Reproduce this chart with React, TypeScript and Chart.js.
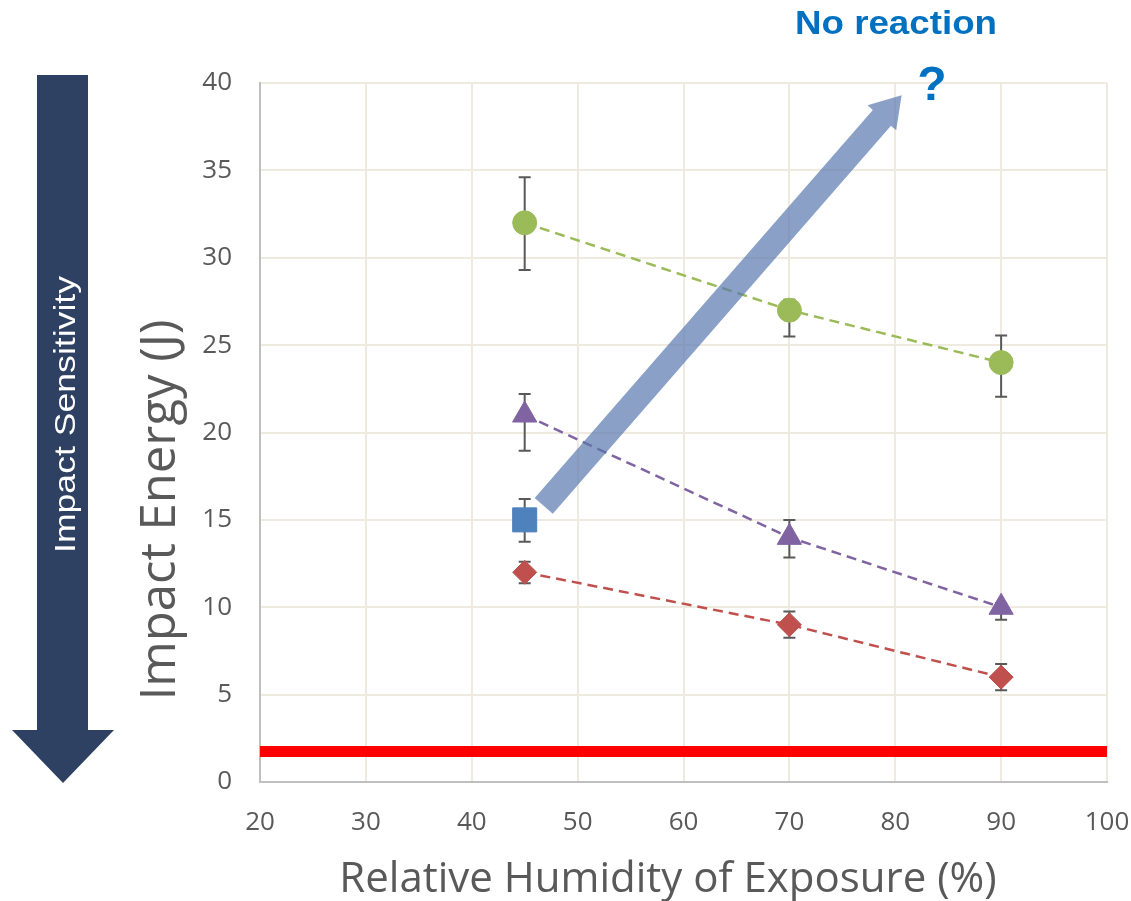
import React, { useEffect, useRef } from 'react';
import { Chart, registerables } from 'chart.js';

Chart.register(...registerables);

// ---------- data ----------
const humidity = [45, 70, 90];

const greenEnergy = [32, 27, 24];
const greenErrUp = [2.6, 0.6, 1.55];
const greenErrDown = [2.7, 1.5, 1.95];

const purpleEnergy = [21, 14, 10];
const purpleErrUp = [1.2, 1.0, 0.25];
const purpleErrDown = [2.05, 1.15, 0.72];

const blueHumidity = [45];
const blueEnergy = [15];
const blueErrUp = [1.2];
const blueErrDown = [1.25];

const redEnergy = [12, 9, 6];
const redErrUp = [0.6, 0.75, 0.75];
const redErrDown = [0.62, 0.75, 0.75];

const thresholdX = [20, 100];
const thresholdEnergy = [1.75, 1.75];

// trend arrow (data coordinates): tail -> tip
const trendArrowX = [46.8, 80.6];
const trendArrowY = [15.8, 39.3];

const xTicksMin = 20;
const xTicksMax = 100;
const yTicksMin = 0;
const yTicksMax = 40;

const yTitle = 'Impact Energy (J)';
const xTitle = 'Relative Humidity of Exposure (%)';

const FONT = '"Open Sans", "Noto Sans", sans-serif';
const GREY = '#595959';

const toPoints = (xs: number[], ys: number[]) => xs.map((x, i) => ({ x, y: ys[i] }));

const errorSeries = [
  { xs: humidity, ys: greenEnergy, up: greenErrUp, down: greenErrDown },
  { xs: humidity, ys: purpleEnergy, up: purpleErrUp, down: purpleErrDown },
  { xs: blueHumidity, ys: blueEnergy, up: blueErrUp, down: blueErrDown },
  { xs: humidity, ys: redEnergy, up: redErrUp, down: redErrDown },
];

const errorBarPlugin = {
  id: 'errorBars',
  beforeDatasetsDraw(chart: any) {
    const { ctx, scales } = chart;
    const xs = scales.x;
    const ys = scales.y;
    ctx.save();
    ctx.strokeStyle = GREY;
    ctx.lineWidth = 2;
    errorSeries.forEach((s) => {
      s.xs.forEach((xv, i) => {
        const px = xs.getPixelForValue(xv);
        const top = ys.getPixelForValue(s.ys[i] + s.up[i]);
        const bot = ys.getPixelForValue(s.ys[i] - s.down[i]);
        ctx.beginPath();
        ctx.moveTo(px, top);
        ctx.lineTo(px, bot);
        ctx.moveTo(px - 6, top);
        ctx.lineTo(px + 6, top);
        ctx.moveTo(px - 6, bot);
        ctx.lineTo(px + 6, bot);
        ctx.stroke();
      });
    });
    ctx.restore();
  },
};

const trendArrowPlugin = {
  id: 'trendArrow',
  afterDatasetsDraw(chart: any) {
    const { ctx, scales } = chart;
    const x0 = scales.x.getPixelForValue(trendArrowX[0]);
    const y0 = scales.y.getPixelForValue(trendArrowY[0]);
    const x1 = scales.x.getPixelForValue(trendArrowX[1]);
    const y1 = scales.y.getPixelForValue(trendArrowY[1]);
    const dx = x1 - x0;
    const dy = y1 - y0;
    const len = Math.hypot(dx, dy);
    const ux = dx / len;
    const uy = dy / len;
    const nx = -uy;
    const ny = ux;
    const shaft = 24;
    const head = 38;
    const headLen = 30;
    const neckX = x1 - ux * headLen;
    const neckY = y1 - uy * headLen;
    ctx.save();
    ctx.fillStyle = 'rgba(88,119,174,0.7)';
    ctx.beginPath();
    ctx.moveTo(x0 + nx * shaft / 2, y0 + ny * shaft / 2);
    ctx.lineTo(neckX + nx * shaft / 2, neckY + ny * shaft / 2);
    ctx.lineTo(neckX + nx * head / 2, neckY + ny * head / 2);
    ctx.lineTo(x1, y1);
    ctx.lineTo(neckX - nx * head / 2, neckY - ny * head / 2);
    ctx.lineTo(neckX - nx * shaft / 2, neckY - ny * shaft / 2);
    ctx.lineTo(x0 - nx * shaft / 2, y0 - ny * shaft / 2);
    ctx.closePath();
    ctx.fill();
    ctx.restore();
  },
};

const drawStretchedText = (
  ctx: CanvasRenderingContext2D,
  text: string,
  font: string,
  x: number,
  y: number,
  rotation: number,
  targetWidth: number,
  color: string
) => {
  ctx.save();
  ctx.font = font;
  const w = ctx.measureText(text).width;
  ctx.translate(x, y);
  ctx.rotate(rotation);
  ctx.scale(targetWidth / w, 1);
  ctx.fillStyle = color;
  ctx.textAlign = 'left';
  ctx.textBaseline = 'alphabetic';
  ctx.fillText(text, 0, 0);
  ctx.restore();
};

const decorPlugin = {
  id: 'decor',
  afterDraw(chart: any) {
    const { ctx } = chart;
    // axis titles, placed like the original
    ctx.save();
    ctx.font = `49px ${FONT}`;
    ctx.fillStyle = GREY;
    ctx.translate(175, 510);
    ctx.rotate(-Math.PI / 2);
    ctx.textAlign = 'center';
    ctx.textBaseline = 'alphabetic';
    ctx.fillText(yTitle, 0, 0);
    ctx.restore();
    ctx.save();
    ctx.font = `42px ${FONT}`;
    ctx.fillStyle = GREY;
    ctx.textAlign = 'center';
    ctx.textBaseline = 'middle';
    ctx.fillText(xTitle, 668, 880);
    ctx.restore();
    // sensitivity arrow on the left
    ctx.save();
    ctx.fillStyle = '#2E4163';
    ctx.beginPath();
    ctx.moveTo(37, 75);
    ctx.lineTo(88, 75);
    ctx.lineTo(88, 730);
    ctx.lineTo(114, 730);
    ctx.lineTo(63, 783);
    ctx.lineTo(12, 730);
    ctx.lineTo(37, 730);
    ctx.closePath();
    ctx.fill();
    ctx.restore();
    drawStretchedText(ctx, 'Impact Sensitivity', '29px "Liberation Sans", Arial, sans-serif', 75, 553, -Math.PI / 2, 277, '#FFFFFF');
    // annotations
    drawStretchedText(ctx, 'No reaction', 'bold 34px "Liberation Sans", Arial, sans-serif', 795, 34, 0, 202, '#0070C0');
    ctx.save();
    ctx.font = 'bold 48px "Liberation Sans", Arial, sans-serif';
    ctx.fillStyle = '#0070C0';
    ctx.textAlign = 'center';
    ctx.textBaseline = 'alphabetic';
    ctx.fillText('?', 932, 100);
    ctx.restore();
  },
};

export default function App() {
  const canvasRef = useRef<HTMLCanvasElement | null>(null);

  useEffect(() => {
    const canvas = canvasRef.current;
    if (!canvas) return;
    const dashed = [10, 6];
    const chart = new Chart(canvas, {
      type: 'scatter',
      data: {
        datasets: [
          {
            label: 'threshold',
            data: toPoints(thresholdX, thresholdEnergy),
            showLine: true,
            borderColor: '#FF0000',
            backgroundColor: '#FF0000',
            borderWidth: 11,
            borderCapStyle: 'butt',
            pointRadius: 0,
          },
          {
            label: 'green',
            data: toPoints(humidity, greenEnergy),
            showLine: true,
            borderColor: '#9BBB59',
            backgroundColor: '#9BBB59',
            borderWidth: 2.5,
            borderDash: dashed,
            pointStyle: 'circle',
            pointRadius: 12,
            pointBorderWidth: 1,
          },
          {
            label: 'purple',
            data: toPoints(humidity, purpleEnergy),
            showLine: true,
            borderColor: '#8064A2',
            backgroundColor: '#8064A2',
            borderWidth: 2.5,
            borderDash: dashed,
            pointStyle: 'triangle',
            pointRadius: 14,
            pointBorderWidth: 1,
          },
          {
            label: 'blue',
            data: toPoints(blueHumidity, blueEnergy),
            showLine: false,
            borderColor: '#4F81BD',
            backgroundColor: '#4F81BD',
            pointStyle: 'rect',
            pointRadius: 17,
            pointBorderWidth: 1,
          },
          {
            label: 'red',
            data: toPoints(humidity, redEnergy),
            showLine: true,
            borderColor: '#C0504D',
            backgroundColor: '#C0504D',
            borderWidth: 2.5,
            borderDash: dashed,
            pointStyle: 'rectRot',
            pointRadius: 12,
            pointBorderWidth: 1,
          },
        ],
      },
      options: {
        responsive: false,
        animation: false,
        events: [],
        layout: { padding: { left: 0, right: 24, top: 83, bottom: 0 } },
        plugins: {
          legend: { display: false },
          tooltip: { enabled: false },
        },
        scales: {
          x: {
            type: 'linear',
            min: xTicksMin,
            max: xTicksMax,
            ticks: { stepSize: 10, padding: 25, color: GREY, font: { family: FONT, size: 26 } },
            grid: { color: '#EEEAE0', lineWidth: 2, drawTicks: false },
            border: { color: '#BFBFBF', width: 2 },
            title: { display: false },
            afterFit: (s: any) => {
              s.height = 119;
              s.paddingLeft = 0;
              s.paddingRight = 0;
            },
          },
          y: {
            type: 'linear',
            min: yTicksMin,
            max: yTicksMax,
            ticks: { stepSize: 5, padding: 28, color: GREY, font: { family: FONT, size: 26 } },
            grid: { color: '#EEEAE0', lineWidth: 2, drawTicks: false },
            border: { color: '#BFBFBF', width: 2 },
            title: { display: false },
            afterFit: (s: any) => {
              s.width = 260;
            },
          },
        },
      },
      plugins: [errorBarPlugin, trendArrowPlugin, decorPlugin],
    } as any);
    return () => chart.destroy();
  }, []);

  return (
    <div style={{ position: 'fixed', left: 0, top: 0, width: 1131, height: 901, background: '#FFFFFF' }}>
      <canvas ref={canvasRef} width={1131} height={901} style={{ display: 'block' }} />
    </div>
  );
}
